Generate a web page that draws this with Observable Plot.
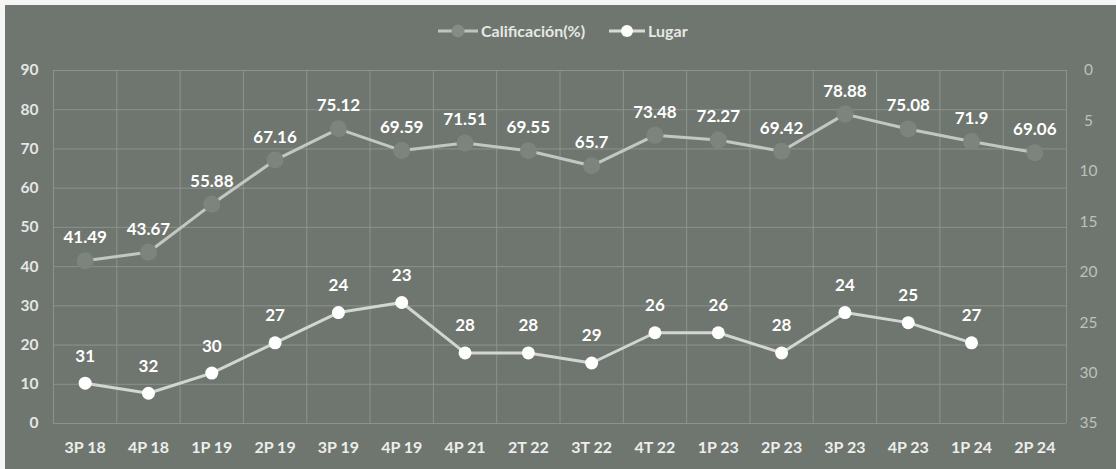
<!DOCTYPE html>
<html><head><meta charset="utf-8">
<script src="https://cdn.jsdelivr.net/npm/d3@7"></script>
<script src="https://cdn.jsdelivr.net/npm/@observablehq/plot@0.6"></script>
<style>
html,body{margin:0;padding:0;background:#f4f5f4;}
#wrap{position:relative;width:1116px;height:469px;overflow:hidden;}
#bg{position:absolute;left:5px;top:5px;width:1111px;height:464px;background:#6f766f;}
#chart{position:absolute;left:0;top:0;}
#legend{position:absolute;top:21px;left:436px;display:flex;align-items:center;font-family:Lato,sans-serif;font-weight:bold;font-size:16px;color:#e6e8e6;}
.item{display:flex;align-items:center;gap:1px;margin-right:22px;}
</style></head>
<body>
<div id="wrap"><div id="bg"></div><div id="chart"></div>
<div id="legend">
 <div class="item"><svg width="44" height="16"><line x1="2" y1="8" x2="42" y2="8" stroke="#bfc3bf" stroke-width="3"/><circle cx="22" cy="8" r="6.5" fill="#858c85"/></svg><span>Calificación(%)</span></div>
 <div class="item"><svg width="40" height="16"><line x1="2" y1="8" x2="38" y2="8" stroke="#d8dbd8" stroke-width="3"/><circle cx="20" cy="8" r="6" fill="#ffffff"/></svg><span>Lugar</span></div>
</div></div>
<script>
const periodos = ["3P 18","4P 18","1P 19","2P 19","3P 19","4P 19","4P 21","2T 22","3T 22","4T 22","1P 23","2P 23","3P 23","4P 23","1P 24","2P 24"];
const calificacion = [41.49,43.67,55.88,67.16,75.12,69.59,71.51,69.55,65.7,73.48,72.27,69.42,78.88,75.08,71.9,69.06];
const lugar = [31,32,30,27,24,23,28,28,29,26,26,28,24,25,27,null];
const leftTicks = [0,10,20,30,40,50,60,70,80,90];
const rightTicks = [0,5,10,15,20,25,30,35];

const LEFT_MAX = 90, RIGHT_MAX = 35;
const toLeft = v => LEFT_MAX - v * LEFT_MAX / RIGHT_MAX;

const cal = periodos.map((p,i)=>({i, p, v: calificacion[i]}));
const lug = periodos.map((p,i)=>({i, p, v: lugar[i]})).filter(d=>d.v!=null);
const edges = d3.range(periodos.length+1).map(k=>k-0.5);

const font = "Lato,sans-serif";
const plot = Plot.plot({
  width:1116, height:469,
  marginLeft:53, marginRight:50, marginTop:70, marginBottom:46,
  style:{background:"transparent", fontFamily:font, fontSize:"15px", fontWeight:"bold", color:"#e4e7e4"},
  x:{domain:[-0.5, periodos.length-0.5], axis:null},
  y:{domain:[0,LEFT_MAX], axis:null},
  marks:[
    Plot.ruleY(leftTicks,{stroke:"#8c938c", strokeWidth:1}),
    Plot.ruleX(edges,{stroke:"#8c938c", strokeWidth:1}),
    Plot.text(leftTicks,{x:-0.5, y:d=>d, text:d=>String(d), textAnchor:"end", dx:-15, fill:"#e4e7e4", fontSize:15.5}),
    Plot.text(rightTicks,{x:periodos.length-0.5, y:d=>toLeft(d), text:d=>String(d), textAnchor:"middle", dx:22, fill:"#bcc1bc", fontSize:15.5, fontWeight:"normal"}),
    Plot.text(cal,{x:"i", y:0, text:"p", dy:24, fill:"#eceeec", fontSize:16}),
    Plot.line(cal,{x:"i", y:"v", stroke:"#c3c7c3", strokeWidth:3}),
    Plot.dot(cal,{x:"i", y:"v", r:8.5, fill:"#7d847d", stroke:"none"}),
    Plot.text(cal,{x:"i", y:"v", text:d=>String(d.v), dy:-23, fill:"#ffffff", fontSize:17}),
    Plot.line(lug,{x:"i", y:d=>toLeft(d.v), stroke:"#d2d6d2", strokeWidth:3}),
    Plot.dot(lug,{x:"i", y:d=>toLeft(d.v), r:6.5, fill:"#ffffff", stroke:"none"}),
    Plot.text(lug,{x:"i", y:d=>toLeft(d.v), text:d=>String(d.v), dy:-27, fill:"#ffffff", fontSize:17})
  ]
});
document.getElementById("chart").appendChild(plot);
</script>
</body></html>
